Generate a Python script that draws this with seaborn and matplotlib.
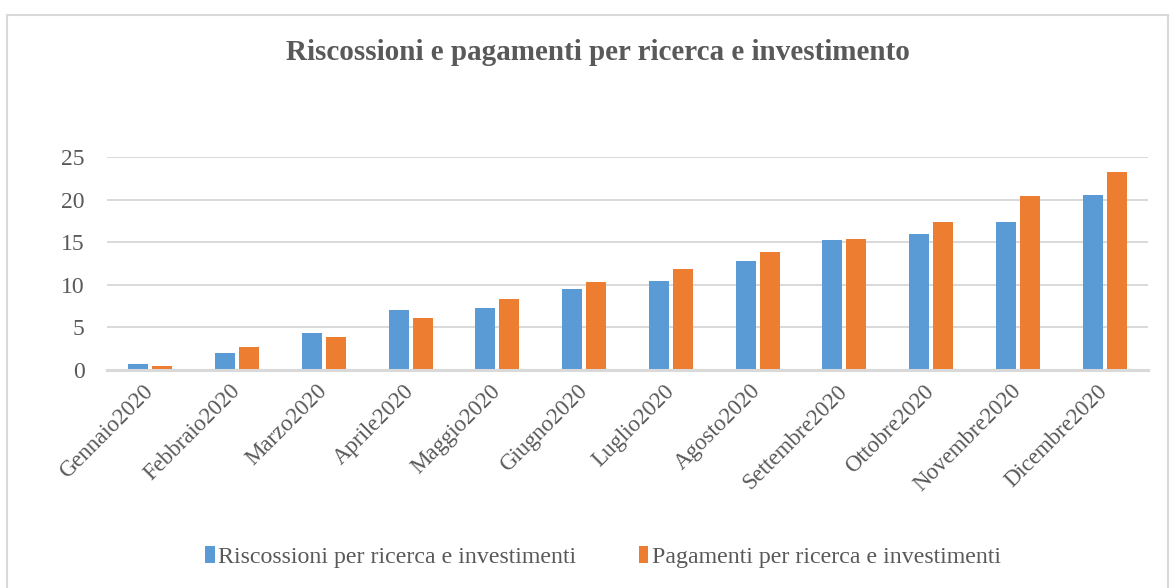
import matplotlib
matplotlib.use("Agg")
import matplotlib.pyplot as plt
from matplotlib.patches import Rectangle, Patch
import seaborn as sns
import pandas as pd

months = ["Gennaio2020", "Febbraio2020", "Marzo2020", "Aprile2020", "Maggio2020",
          "Giugno2020", "Luglio2020", "Agosto2020", "Settembre2020", "Ottobre2020",
          "Novembre2020", "Dicembre2020"]
riscossioni = [0.67, 1.97, 4.33, 7.09, 7.32, 9.49, 10.47, 12.76, 15.2, 15.98, 17.32, 20.55]
pagamenti = [0.43, 2.68, 3.9, 6.14, 8.39, 10.35, 11.89, 13.82, 15.43, 17.32, 20.39, 23.23]
series_names = ["Riscossioni per ricerca e investimenti", "Pagamenti per ricerca e investimenti"]
colors = ["#5B9BD5", "#ED7D31"]
title = "Riscossioni e pagamenti per ricerca e investimento"
yticks = [0, 5, 10, 15, 20, 25]

df = pd.DataFrame({
    "mese": months * 2,
    "valore": riscossioni + pagamenti,
    "serie": [series_names[0]] * len(months) + [series_names[1]] * len(months),
})

sns.set_theme(style="white")
plt.rcParams["font.family"] = ["Liberation Serif", "DejaVu Serif"]
text_color = "#595959"
grid_color = "#D9D9D9"

fig = plt.figure(figsize=(11.76, 5.88), dpi=100)
fig.patch.set_facecolor("white")
ax = fig.add_axes([107 / 1176, 1 - 370 / 588, (1148 - 107) / 1176, (370 - 157) / 588])

sns.barplot(data=df, x="mese", y="valore", hue="serie", palette=colors, saturation=1,
            width=0.55, gap=0.16, linewidth=0, ax=ax, legend=False)

ax.set_ylim(0, 25)
ax.set_yticks(yticks)
ax.set_xlim(-0.5, len(months) - 0.5)
ax.yaxis.grid(True, color=grid_color, linewidth=1.4)
ax.set_axisbelow(True)
for side in ["top", "right", "left"]:
    ax.spines[side].set_visible(False)
ax.spines["bottom"].set_color(grid_color)
ax.spines["bottom"].set_linewidth(2.2)
ax.set_xlabel("")
ax.set_ylabel("")
ax.tick_params(axis="both", length=0, colors=text_color)
ax.tick_params(axis="y", pad=16, labelsize=17)
ax.set_xticks(range(len(months)))
ax.set_xticklabels(months, rotation=45, ha="right", va="center",
                   rotation_mode="anchor", color=text_color, fontsize=16.5)
ax.tick_params(axis="x", pad=13)

fig.text(598 / 1176, 1 - 53 / 588, title, ha="center", va="center",
         fontsize=21, fontweight="bold", color=text_color)

handles = [Patch(facecolor=c, edgecolor="none") for c in colors]
fig.legend(handles, series_names, loc="center", bbox_to_anchor=(603 / 1176, 1 - 557 / 588),
           ncol=2, frameon=False, fontsize=17.2, labelcolor=text_color,
           handlelength=0.4, handleheight=0.75, handletextpad=0.15, columnspacing=2.6)

fig.add_artist(Rectangle((7 / 1176, -0.05), (1168 - 7) / 1176, 0.05 + (588 - 15) / 588,
                         transform=fig.transFigure, fill=False,
                         edgecolor=grid_color, linewidth=1.5))

fig.savefig("out.png", dpi=100, facecolor="white")
